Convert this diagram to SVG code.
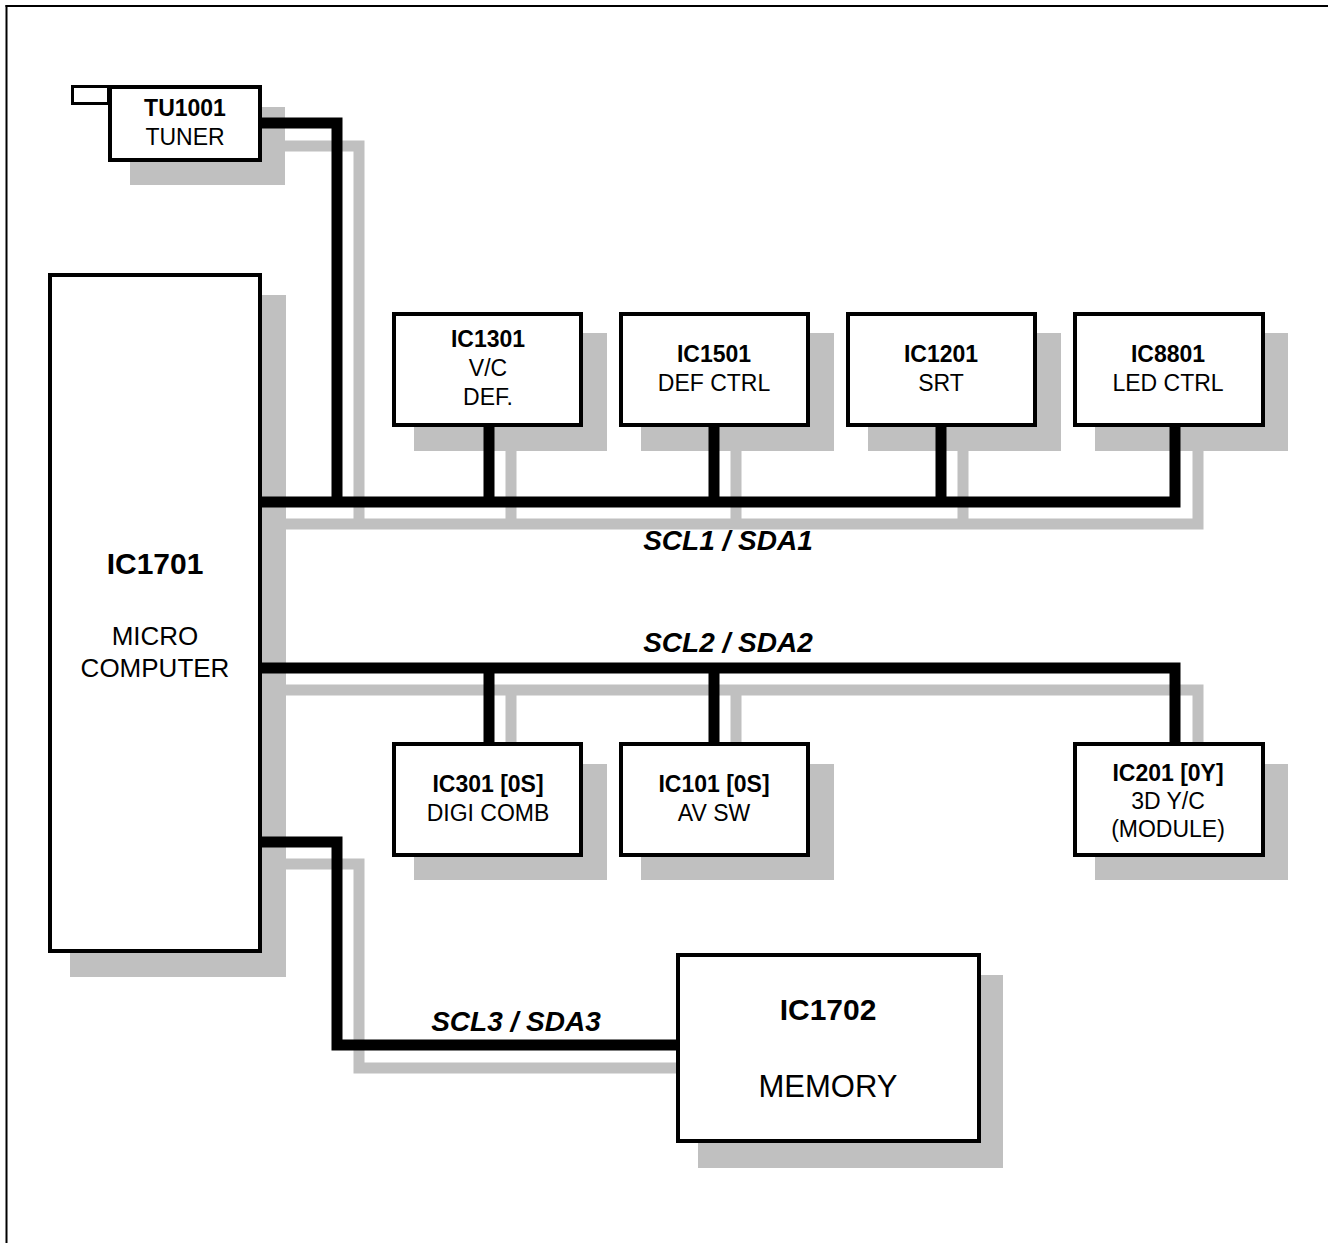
<svg xmlns="http://www.w3.org/2000/svg" width="1328" height="1243" viewBox="0 0 1328 1243">
<style>
.sh{fill:#c0c0c0;stroke:none}
.box{fill:#fff;stroke:#000;stroke-width:4}
.gl{fill:none;stroke:#c0c0c0;stroke-width:11;stroke-linejoin:miter;stroke-linecap:butt}
.bl{fill:none;stroke:#000;stroke-width:11;stroke-linejoin:miter;stroke-linecap:butt}
text{font-family:"Liberation Sans",Arial,sans-serif;fill:#000;text-anchor:middle}
.t{font-size:23px}
.tb{font-size:23px;font-weight:bold}
.big{font-size:30px;font-weight:bold}
.bus{font-size:28px;font-weight:bold;font-style:italic}
</style>
<rect x="0" y="0" width="1328" height="1243" fill="#fff"/>
<g id="frame">
<line x1="6.5" y1="5" x2="6.5" y2="1243" stroke="#000" stroke-width="2"/>
<line x1="5.5" y1="6" x2="1328" y2="6" stroke="#000" stroke-width="2"/>
</g>
<g id="shadows">
<rect class="sh" x="130" y="107" width="155" height="78"/>
<rect class="sh" x="70" y="295" width="216" height="682"/>
<rect class="sh" x="414" y="333" width="193" height="118"/>
<rect class="sh" x="641" y="333" width="193" height="118"/>
<rect class="sh" x="868" y="333" width="193" height="118"/>
<rect class="sh" x="1095" y="333" width="193" height="118"/>
<rect class="sh" x="414" y="764" width="193" height="116"/>
<rect class="sh" x="641" y="764" width="193" height="116"/>
<rect class="sh" x="1095" y="764" width="193" height="116"/>
<rect class="sh" x="698" y="975" width="305" height="193"/>
</g>
<g id="connectors">
<path class="gl" d="M285,146 H359 V524"/>
<path class="gl" d="M286,524 H1198 V451"/>
<path class="gl" d="M511,451 V524 M736,451 V524 M963,451 V524"/>
<path class="gl" d="M286,690 H1198 V742"/>
<path class="gl" d="M511,690 V742 M736,690 V742"/>
<path class="gl" d="M286,864 H359 V1068 H676"/>
<path class="bl" d="M262,123 H337 V502"/>
<path class="bl" d="M262,502 H1175 V427"/>
<path class="bl" d="M489,427 V502 M714,427 V502 M941,427 V502"/>
<path class="bl" d="M262,668 H1175 V742"/>
<path class="bl" d="M489,668 V742 M714,668 V742"/>
<path class="bl" d="M262,842 H337 V1045 H676"/>
</g>
<g id="labels">
<text class="bus" x="728" y="550">SCL1 / SDA1</text>
<text class="bus" x="728" y="652">SCL2 / SDA2</text>
<text class="bus" x="516" y="1031">SCL3 / SDA3</text>
</g>
<g id="TU1001">
<rect x="72.5" y="86.5" width="36" height="17" fill="#fff" stroke="#000" stroke-width="3"/>
<rect class="box" x="110" y="87" width="150" height="73" stroke-width="3.5"/>
<text class="tb" x="185" y="116">TU1001</text>
<text class="t" x="185" y="145">TUNER</text>
</g>
<g id="IC1701">
<rect class="box" x="50" y="275" width="210" height="676"/>
<text class="big" x="155" y="574">IC1701</text>
<text x="155" y="645" font-size="26">MICRO</text>
<text x="155" y="677" font-size="26">COMPUTER</text>
</g>
<g id="IC1301">
<rect class="box" x="394" y="314" width="187" height="111"/>
<text class="tb" x="488" y="347">IC1301</text>
<text class="t" x="488" y="376">V/C</text>
<text class="t" x="488" y="405">DEF.</text>
</g>
<g id="IC1501">
<rect class="box" x="621" y="314" width="187" height="111"/>
<text class="tb" x="714" y="362">IC1501</text>
<text class="t" x="714" y="391">DEF CTRL</text>
</g>
<g id="IC1201">
<rect class="box" x="848" y="314" width="187" height="111"/>
<text class="tb" x="941" y="362">IC1201</text>
<text class="t" x="941" y="391">SRT</text>
</g>
<g id="IC8801">
<rect class="box" x="1075" y="314" width="188" height="111"/>
<text class="tb" x="1168" y="362">IC8801</text>
<text class="t" x="1168" y="391">LED CTRL</text>
</g>
<g id="IC301">
<rect class="box" x="394" y="744" width="187" height="111"/>
<text class="tb" x="488" y="792">IC301 [0S]</text>
<text class="t" x="488" y="821">DIGI COMB</text>
</g>
<g id="IC101">
<rect class="box" x="621" y="744" width="187" height="111"/>
<text class="tb" x="714" y="792">IC101 [0S]</text>
<text class="t" x="714" y="821">AV SW</text>
</g>
<g id="IC201">
<rect class="box" x="1075" y="744" width="188" height="111"/>
<text class="tb" x="1168" y="781">IC201 [0Y]</text>
<text class="t" x="1168" y="809">3D Y/C</text>
<text class="t" x="1168" y="837">(MODULE)</text>
</g>
<g id="IC1702">
<rect class="box" x="678" y="955" width="301" height="186"/>
<text class="big" x="828" y="1020">IC1702</text>
<text x="828" y="1097" font-size="31">MEMORY</text>
</g>
</svg>
